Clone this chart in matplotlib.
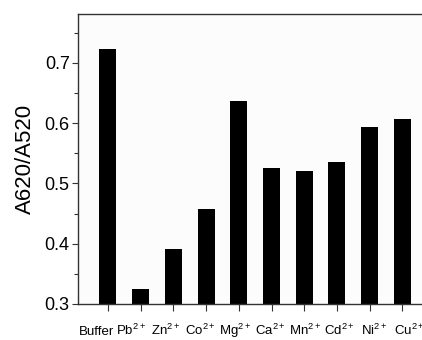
import matplotlib
matplotlib.use("Agg")
import matplotlib.pyplot as plt
from matplotlib.ticker import MultipleLocator

categories = ["Buffer", "Pb$^{2+}$", "Zn$^{2+}$", "Co$^{2+}$", "Mg$^{2+}$",
              "Ca$^{2+}$", "Mn$^{2+}$", "Cd$^{2+}$", "Ni$^{2+}$", "Cu$^{2+}$"]
values = [0.723, 0.325, 0.392, 0.458, 0.637, 0.526, 0.520, 0.535, 0.594, 0.607]

plt.rcParams['font.family'] = ['Liberation Sans', 'DejaVu Sans']
plt.rcParams['mathtext.fontset'] = 'custom'
plt.rcParams['mathtext.rm'] = 'Liberation Sans'
plt.rcParams['mathtext.it'] = 'Liberation Sans'
plt.rcParams['mathtext.bf'] = 'Liberation Sans'

fig = plt.figure(figsize=(4.22, 3.4), dpi=100)
fig.patch.set_facecolor('white')
ax = fig.add_axes([78/422, 36/340, 0.84, 290/340])
ax.set_facecolor('#fcfcfc')

x = list(range(len(categories)))
ax.bar(x, values, width=0.52, bottom=0, color='black')

ax.set_xlim(-0.917, 9.92)
ax.set_ylim(0.3, 0.781)
ax.set_xticks(x)
ax.set_xticklabels([])
ax.yaxis.set_minor_locator(MultipleLocator(0.05))
ax.set_yticks([0.3, 0.4, 0.5, 0.6, 0.7])
ax.set_yticklabels(["0.3", "0.4", "0.5", "0.6", "0.7"], fontsize=13)
ax.set_ylabel("A620/A520", fontsize=16, labelpad=6)

for s in ['left', 'bottom', 'top', 'right']:
    ax.spines[s].set_color('#333333')
    ax.spines[s].set_linewidth(1.0)

ax.tick_params(axis='y', which='major', direction='out', length=4, width=0.8, color='#333333', pad=2)
ax.tick_params(axis='y', which='minor', direction='out', length=3, width=0.8, color='#333333')
ax.tick_params(axis='x', which='major', direction='out', length=5, width=0.8, color='#333333')

# category labels are laid out slightly wider than the bars, as in the original
lab0, labstep = -0.352, 1.062
secax = ax.secondary_xaxis('bottom',
                           functions=(lambda v: (v - lab0) / labstep,
                                      lambda i: lab0 + i * labstep))
secax.spines['bottom'].set_visible(False)
secax.set_xticks(x)
secax.set_xticklabels(categories, fontsize=9.5)
secax.tick_params(axis='x', length=0, pad=22)
for lbl in secax.get_xticklabels():
    lbl.set_verticalalignment('baseline')

fig.savefig("out.png", dpi=100)
